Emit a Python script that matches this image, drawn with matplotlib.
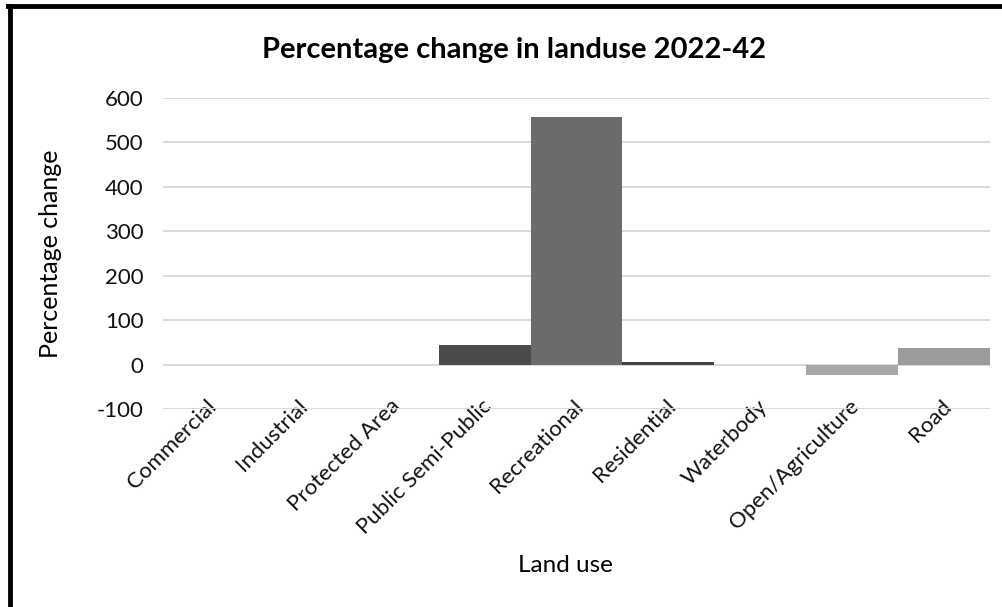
import matplotlib.pyplot as plt
from matplotlib.lines import Line2D
from matplotlib.transforms import ScaledTranslation

plt.rcParams['font.family'] = ['Lato', 'DejaVu Sans']
plt.rcParams['axes.unicode_minus'] = False

# percentage change per land use class, 2022-42
landuse = ['Commercial', 'Industrial', 'Protected Area', 'Public Semi-Public',
           'Recreational', 'Residential', 'Waterbody', 'Open/Agriculture', 'Road']
pct_change = [0, 0, 0, 43, 557, 5, 0, -23, 37]
shades = ['#2b2b2b', '#333333', '#3a3a3a', '#4b4b4b', '#6b6b6b',
          '#434343', '#888888', '#a8a8a8', '#9b9b9b']

yticks = [-100, 0, 100, 200, 300, 400, 500, 600]

fig = plt.figure(figsize=(10.03, 6.07), dpi=100)
ax = fig.add_axes([163 / 1003, 1 - 409 / 607, 827 / 1003, 311 / 607])

x = range(len(landuse))
ax.bar(x, pct_change, width=1.0, color=shades, zorder=3)

ax.set_xlim(-0.5, len(landuse) - 0.5)
ax.set_ylim(-100, 600)
ax.set_yticks(yticks)
ax.grid(axis='y', color='#d9d9d9', linewidth=1.4, zorder=0)
ax.axhline(0, color='#d9d9d9', linewidth=1.4, zorder=1)
for s in ax.spines.values():
    s.set_visible(False)
ax.tick_params(length=0, labelsize=16, colors='#111111')
ax.tick_params(axis='y', pad=14)

ax.set_xticks(list(x))
ax.set_xticklabels(landuse, rotation=45, ha='right', va='center',
                   rotation_mode='anchor')
ax.tick_params(axis='x', pad=0)
# nudge the slanted labels up and to the right
shift = ScaledTranslation(4 / 100, 6 / 100, fig.dpi_scale_trans)
for lbl in ax.get_xticklabels():
    lbl.set_transform(lbl.get_transform() + shift)

ax.set_ylabel('Percentage change', fontsize=18)
ax.yaxis.set_label_coords(-0.122, 0.5)

fig.text(565 / 1003, 1 - 565 / 607, 'Land use', fontsize=17.5,
         ha='center', va='center')
fig.text(0.513, 0.918, 'Percentage change in landuse 2022-42', fontsize=21,
         fontweight='bold', ha='center', va='center')

# outer frame (left and top edges)
fig.add_artist(Line2D([10 / 1003, 10 / 1003], [0, 1 - 6 / 607], color='black',
                      linewidth=3.5, transform=fig.transFigure))
fig.add_artist(Line2D([8 / 1003, 1], [1 - 6 / 607, 1 - 6 / 607], color='black',
                      linewidth=3.5, transform=fig.transFigure))

fig.savefig('out.png', dpi=100)
